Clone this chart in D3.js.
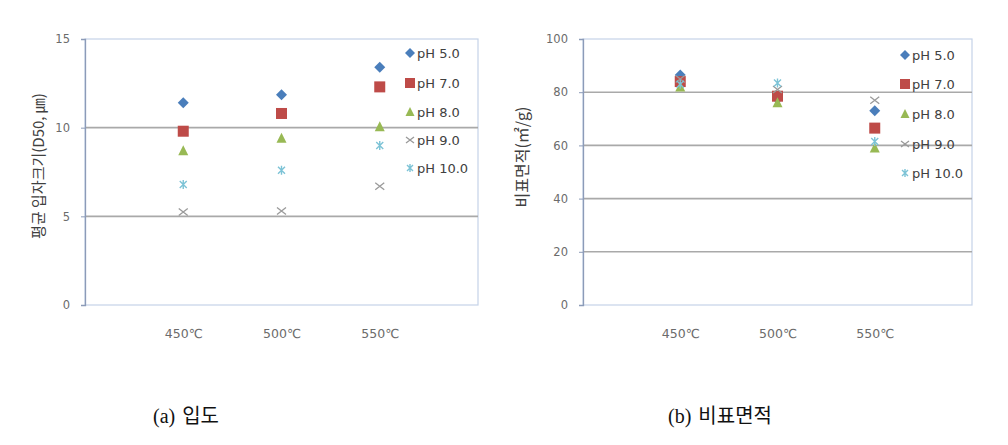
<!DOCTYPE html>
<html><head><meta charset="utf-8">
<script src="https://cdn.jsdelivr.net/npm/d3@7"></script>
<style>body{margin:0;background:#fff}svg{display:block}</style>
</head><body><svg id="c" width="1008" height="445"></svg>
<script>
const categories = ["450℃", "500℃", "550℃"];
const seriesNames = ["pH 5.0", "pH 7.0", "pH 8.0", "pH 9.0", "pH 10.0"];
// (a) particle size D50 (µm)
const sizePH5 = [11.4, 11.85, 13.4];
const sizePH7 = [9.8, 10.8, 12.3];
const sizePH8 = [8.7, 9.4, 10.05];
const sizePH9 = [5.25, 5.3, 6.7];
const sizePH10 = [6.8, 7.6, 9.0];
const sizeTicks = [0, 5, 10, 15];
// (b) specific surface area (m2/g)
const betPH5 = [86.5, 77.5, 73.0];
const betPH7 = [84.0, 78.5, 66.5];
const betPH8 = [82.0, 76.0, 59.0];
const betPH9 = [85.0, 81.0, 77.0];
const betPH10 = [83.0, 83.5, 61.5];
const betTicks = [0, 20, 40, 60, 80, 100];

const colors = ["#4a7ebb", "#be4b48", "#98b954", "#9a9a9a", "#7cc3d6"];
const shapes = ["diamond", "square", "triangle", "x", "star"];

const svg = d3.select("#c");

function marker(g, shape, color, x, y, s) {
  const h = s / 2;
  if (shape === "diamond") {
    g.append("path").attr("d", `M${x},${y-h-1}L${x+h+1},${y}L${x},${y+h+1}L${x-h-1},${y}Z`).attr("fill", color);
  } else if (shape === "square") {
    g.append("rect").attr("x", x-h).attr("y", y-h).attr("width", s).attr("height", s).attr("fill", color);
  } else if (shape === "triangle") {
    g.append("path").attr("d", `M${x},${y-h-1}L${x+h+0.5},${y+h}L${x-h-0.5},${y+h}Z`).attr("fill", color);
  } else if (shape === "x") {
    g.append("path").attr("d", `M${x-h},${y-h+1}L${x+h},${y+h-1}M${x-h},${y+h-1}L${x+h},${y-h+1}`).attr("stroke", color).attr("stroke-width", 1.3).attr("fill", "none");
  } else {
    g.append("path").attr("d", `M${x-h+1},${y-h+1}L${x+h-1},${y+h-1}M${x-h+1},${y+h-1}L${x+h-1},${y-h+1}M${x},${y-h}L${x},${y+h}`).attr("stroke", color).attr("stroke-width", 1.4).attr("fill", "none");
  }
}

function panel(cfg) {
  const g = svg.append("g");
  const x0 = cfg.left, x1 = cfg.right, y0 = 39, y1 = 305;
  const y = d3.scaleLinear().domain([cfg.ticks[0], cfg.ticks[cfg.ticks.length-1]]).range([y1, y0]);
  const xb = d3.scalePoint().domain(["", ...categories, " "]).range([x0, x1]);

  g.append("rect").attr("x", x0).attr("y", y0).attr("width", x1 - x0).attr("height", y1 - y0)
    .attr("fill", "none").attr("stroke", "#c5d3e8").attr("stroke-width", 1.2);
  g.selectAll(".grid").data(cfg.ticks.slice(1, -1)).enter().append("line")
    .attr("x1", x0).attr("x2", x1).attr("y1", d => y(d)).attr("y2", d => y(d))
    .attr("stroke", "#a9a9a9").attr("stroke-width", 1.6);
  const ax = g.append("g").attr("transform", `translate(${x0},0)`)
    .call(d3.axisLeft(y).tickValues(cfg.ticks).tickSize(4).tickPadding(11));
  ax.select(".domain").attr("stroke", "#8c9bb8").attr("stroke-width", 1.3);
  ax.selectAll(".tick line").attr("stroke", "#8c9bb8");
  ax.selectAll("text").attr("fill", "#6b6b6b").style("font-family", "DejaVu Sans").style("font-size", "11.5px");
  const xa = g.append("g").attr("transform", `translate(0,${y1})`)
    .call(d3.axisBottom(xb).tickValues(categories).tickSize(0).tickPadding(24));
  xa.select(".domain").remove();
  xa.selectAll("text").attr("fill", "#6b6b6b").style("font-family", "DejaVu Sans").style("font-size", "12.5px");
  g.append("text").attr("transform", `translate(${cfg.titleX},${cfg.titleY}) rotate(-90)`)
    .attr("text-anchor", "middle").attr("fill", "#404040")
    .style("font-family", "Noto Sans CJK KR").style("font-size", cfg.titleSize).text(cfg.title);
  cfg.series.forEach((vals, i) => {
    vals.forEach((v, j) => marker(g, shapes[i], colors[i], xb(categories[j]), y(v), shapes[i] === "square" ? 11 : 9));
  });
  seriesNames.forEach((n, i) => {
    const ly = cfg.legY[i];
    marker(g, shapes[i], colors[i], cfg.legX, ly, shapes[i] === "square" ? 10 : 8);
    g.append("text").attr("x", cfg.legX + 7).attr("y", ly).attr("dy", "0.35em")
      .attr("fill", "#404040").style("font-family", "DejaVu Sans").style("font-size", "13px").text(n);
  });
  g.append("text").attr("x", cfg.capX).attr("y", 423).attr("fill", "#111")
    .style("font-size", "20px")
    .html(`<tspan style="font-family:'Liberation Serif'">${cfg.capA}</tspan><tspan style="font-family:'Noto Sans CJK KR'" dx="7">${cfg.capB}</tspan>`);
}

panel({ left: 85, right: 478, ticks: sizeTicks, title: "평균 입자크기(D50, ㎛)", titleX: 44, titleY: 166, titleSize: "15px",
  series: [sizePH5, sizePH7, sizePH8, sizePH9, sizePH10],
  legX: 410, legY: [53, 83, 112, 140, 168], capX: 153, capA: "(a)", capB: "입도" });
panel({ left: 583, right: 972, ticks: betTicks, title: "비표면적(㎡/g)", titleX: 528, titleY: 157, titleSize: "16px",
  series: [betPH5, betPH7, betPH8, betPH9, betPH10],
  legX: 905, legY: [55, 84, 114, 144, 173], capX: 668, capA: "(b)", capB: "비표면적" });
</script></body></html>
